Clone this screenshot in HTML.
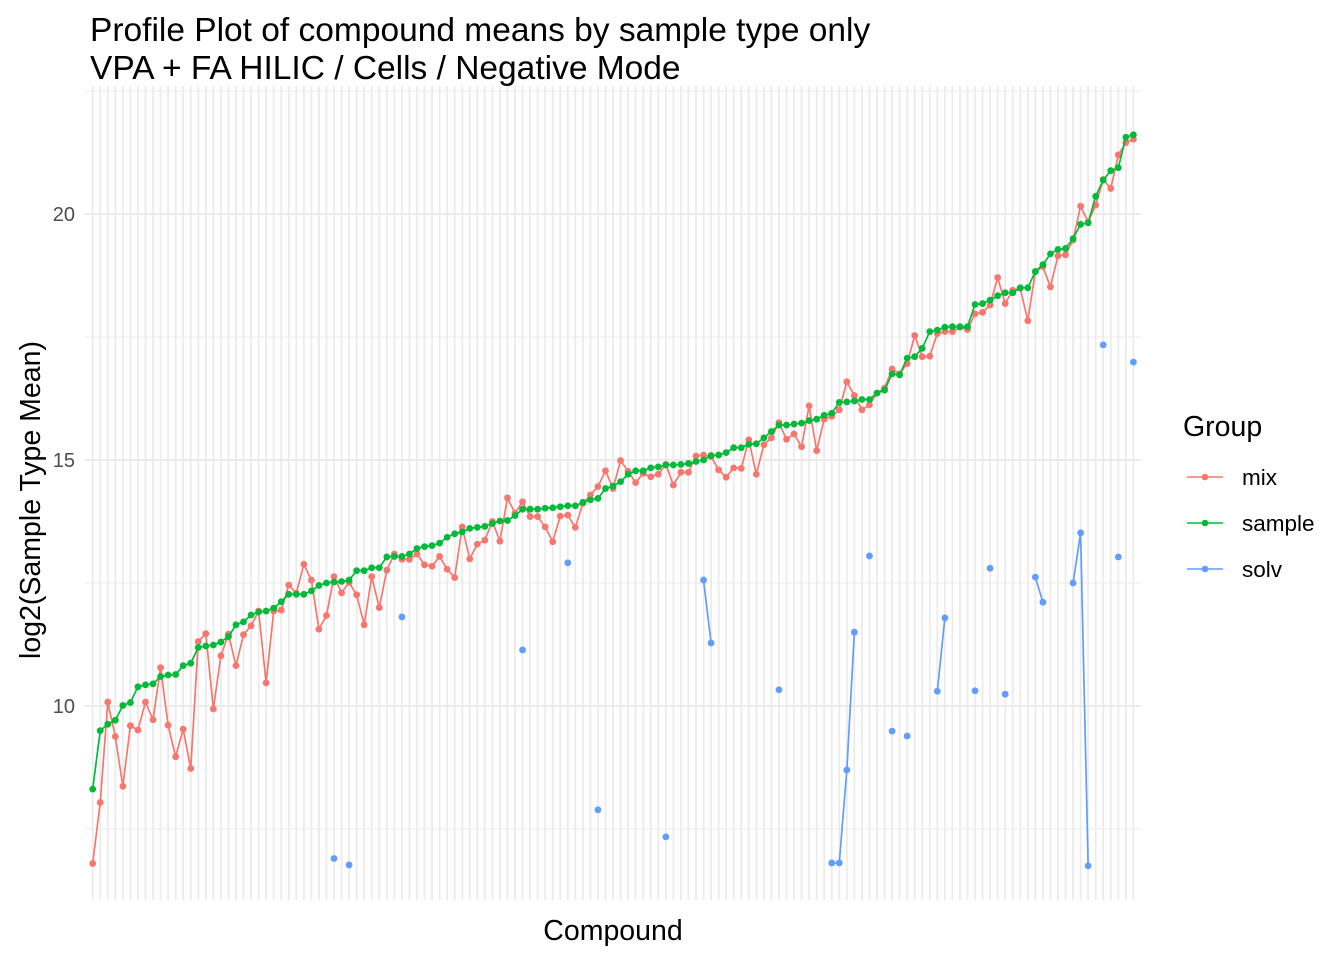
<!DOCTYPE html>
<html><head><meta charset="utf-8"><style>
body{margin:0;background:#fff;}
svg{display:block;font-family:"Liberation Sans",Arial,sans-serif;}
</style></head><body>
<svg id="chart" width="1344" height="960" viewBox="0 0 1344 960">
<g id="grid"></g>
<text x="90" y="41" font-size="33.5" fill="#000">Profile Plot of compound means by sample type only</text>
<text x="90" y="79" font-size="33.5" fill="#000">VPA + FA HILIC / Cells / Negative Mode</text>
<g id="yticks"></g>
<g id="series"></g>
<text x="613" y="940" font-size="28.5" text-anchor="middle" fill="#000">Compound</text>
<text transform="translate(40,500) rotate(-90)" font-size="28.5" text-anchor="middle" fill="#000">log2(Sample Type Mean)</text>
<g>
<text x="1183" y="436" font-size="28.5" fill="#000">Group</text>
<g><line x1="1187" x2="1223" y1="477" y2="477" stroke="#F8766D" stroke-width="1.6"/><circle cx="1205" cy="477" r="3.3" fill="#F8766D"/><text x="1242" y="485" font-size="22.5" fill="#000">mix</text></g>
<g><line x1="1187" x2="1223" y1="523" y2="523" stroke="#00BA38" stroke-width="1.6"/><circle cx="1205" cy="523" r="3.3" fill="#00BA38"/><text x="1242" y="531" font-size="22.5" fill="#000">sample</text></g>
<g><line x1="1187" x2="1223" y1="569" y2="569" stroke="#619CFF" stroke-width="1.6"/><circle cx="1205" cy="569" r="3.3" fill="#619CFF"/><text x="1242" y="577" font-size="22.5" fill="#000">solv</text></g>
</g>
</svg>
<script>
const sampleVals=[8.31,9.50,9.63,9.71,10.01,10.07,10.39,10.43,10.45,10.60,10.63,10.64,10.82,10.87,11.19,11.22,11.24,11.30,11.41,11.65,11.71,11.85,11.91,11.93,11.99,12.12,12.27,12.27,12.27,12.34,12.45,12.50,12.52,12.53,12.56,12.75,12.75,12.81,12.81,13.03,13.04,13.04,13.09,13.20,13.24,13.26,13.31,13.43,13.50,13.54,13.61,13.63,13.65,13.71,13.76,13.77,13.87,14.00,14.00,14.00,14.02,14.03,14.05,14.07,14.07,14.14,14.19,14.22,14.42,14.47,14.56,14.71,14.78,14.78,14.84,14.86,14.90,14.90,14.91,14.93,14.97,15.00,15.09,15.10,15.15,15.25,15.25,15.32,15.33,15.45,15.58,15.71,15.71,15.73,15.75,15.80,15.83,15.91,15.95,16.17,16.18,16.20,16.23,16.23,16.36,16.42,16.75,16.73,17.07,17.10,17.27,17.61,17.64,17.70,17.71,17.71,17.71,18.16,18.18,18.25,18.34,18.40,18.40,18.50,18.50,18.83,18.97,19.19,19.28,19.30,19.50,19.79,19.82,20.36,20.69,20.88,20.94,21.56,21.61];
const mixVals=[6.80,8.04,10.08,9.38,8.37,9.60,9.51,10.08,9.72,10.78,9.61,8.97,9.53,8.73,11.31,11.47,9.94,11.02,11.46,10.82,11.45,11.63,11.93,10.47,11.93,11.95,12.46,12.29,12.88,12.56,11.56,11.84,12.63,12.30,12.51,12.26,11.65,12.63,12.00,12.76,13.09,12.98,12.98,13.09,12.87,12.84,13.04,12.78,12.61,13.64,12.99,13.29,13.37,13.75,13.35,14.23,13.92,14.15,13.85,13.85,13.64,13.34,13.86,13.88,13.63,14.12,14.29,14.46,14.78,14.42,14.99,14.77,14.54,14.73,14.66,14.71,14.91,14.49,14.75,14.75,15.08,15.10,15.07,14.80,14.65,14.84,14.83,15.41,14.71,15.31,15.45,15.76,15.42,15.53,15.27,16.10,15.19,15.83,15.89,16.02,16.59,16.31,16.02,16.12,16.36,16.46,16.85,16.75,16.96,17.53,17.10,17.11,17.57,17.61,17.61,17.70,17.65,17.97,18.00,18.15,18.71,18.18,18.45,18.49,17.83,18.83,18.93,18.52,19.15,19.17,19.47,20.16,19.84,20.18,20.70,20.52,21.20,21.45,21.52];
const solvIdx=[32,34,41,57,63,67,76,81,82,91,98,99,100,101,103,106,108,112,113,117,119,121,125,126,130,131,132,134,136,138];
const solvVals=[6.90,6.77,11.81,11.14,12.91,7.89,7.34,12.56,11.28,10.33,6.81,6.81,8.70,11.50,13.05,9.49,9.39,10.30,11.79,10.31,12.80,10.24,12.62,12.11,12.50,13.52,6.75,17.34,13.03,16.99];
const yTicks=[10,15,20];
const yMinor=[7.5,12.5,17.5,22.5];

const NS="http://www.w3.org/2000/svg";
const N=sampleVals.length;
const x=i=>92.7+i*(1133.4-92.7)/(N-1);
const y=v=>214+(20-v)*49.2;
const PT=86,PB=900,PL=85,PR=1141;
function mk(tag,attrs,parent){const e=document.createElementNS(NS,tag);for(const k in attrs)e.setAttribute(k,attrs[k]);parent.appendChild(e);return e;}
const grid=document.getElementById('grid');
yMinor.forEach(v=>{if(y(v)>=PT&&y(v)<=PB){const l=mk('line',{x1:PL,x2:PR,y1:y(v),y2:y(v),stroke:'#EBEBEB','stroke-width':1},grid);

}});
yTicks.forEach(v=>{const l=mk('line',{x1:PL,x2:PR,y1:y(v),y2:y(v),stroke:'#EBEBEB','stroke-width':2},grid);

});
for(let i=0;i<N;i++){const l=mk('line',{x1:x(i),x2:x(i),y1:PT,y2:PB,stroke:'#EBEBEB','stroke-width':1.8},grid);

}
const yt=document.getElementById('yticks');
yTicks.forEach(v=>{const t=mk('text',{x:75,y:y(v)+7,'font-size':20,'text-anchor':'end',fill:'#4D4D4D'},yt);t.textContent=v;

});
const ser=document.getElementById('series');
function drawSeries(name,idx,vals,color){
  const g=mk('g',{},ser);
  
  
  let seg=[];const segs=[];
  for(let k=0;k<idx.length;k++){if(k>0&&idx[k]!==idx[k-1]+1){segs.push(seg);seg=[];}seg.push([x(idx[k]),y(vals[k])]);}
  segs.push(seg);
  segs.forEach(s=>{if(s.length>1){const p=mk('polyline',{points:s.map(a=>a.join(',')).join(' '),fill:'none',stroke:color,'stroke-width':1.7},g);
  
  }});
  for(let k=0;k<idx.length;k++){const c=mk('circle',{cx:x(idx[k]),cy:y(vals[k]),r:3.4,fill:color},g);
  
  }
}
const all=[...Array(N).keys()];
drawSeries('mix',all,mixVals,'#F8766D');
drawSeries('sample',all,sampleVals,'#00BA38');
drawSeries('solv',solvIdx,solvVals,'#619CFF');
</script>
</body></html>
